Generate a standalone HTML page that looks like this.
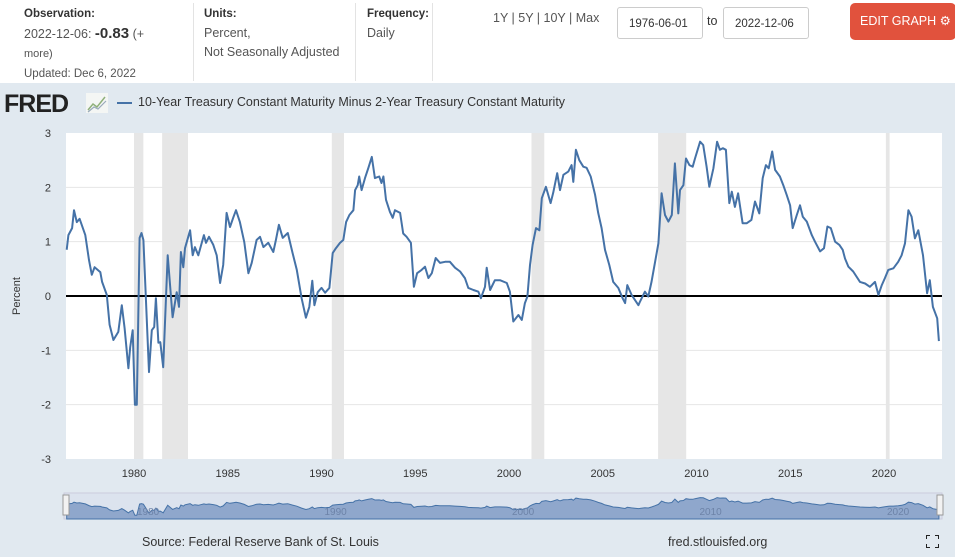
<!DOCTYPE html>
<html><head><meta charset="utf-8">
<style>
body{margin:0;width:955px;height:557px;overflow:hidden;font-family:"Liberation Sans",sans-serif;background:#fff;position:relative}
.hdr{position:absolute;top:0;left:0;width:955px;height:83px;background:#fff}
.cell{position:absolute;top:4px;font-size:12.5px;color:#555;line-height:19px}
.cell b{color:#333;font-size:11.5px}
.vl{position:absolute;top:3px;width:1px;height:78px;background:#e3e3e3}
.date{position:absolute;top:7px;height:32px;border:1px solid #ccc;border-radius:3px;font-size:11.5px;color:#333;line-height:32px;padding-left:11px;box-sizing:border-box}
.chartbg{position:absolute;top:83px;left:0;width:955px;height:474px;background:#e1e9f0}
</style></head><body>
<div class="hdr">
 <div class="cell" style="left:24px"><b>Observation:</b><br>2022-12-06: <span style="font-size:15px;color:#333;font-weight:bold">-0.83</span> (+<br><span style="font-size:11px">more)</span><br><span style="font-size:11.5px">Updated: Dec 6, 2022</span></div>
 <div class="vl" style="left:193px"></div>
 <div class="cell" style="left:204px"><b>Units:</b><br>Percent,<br>Not Seasonally Adjusted</div>
 <div class="vl" style="left:355px"></div>
 <div class="cell" style="left:367px"><b>Frequency:</b><br>Daily</div>
 <div class="vl" style="left:432px"></div>
 <div style="position:absolute;left:493px;top:11px;font-size:12.5px;color:#555">1Y | 5Y | 10Y | Max</div>
 <div class="date" style="left:617px;width:86px">1976-06-01</div>
 <div style="position:absolute;left:707px;top:14px;font-size:12.5px;color:#333">to</div>
 <div class="date" style="left:723px;width:86px">2022-12-06</div>
 <div style="position:absolute;left:850px;top:3px;width:106px;height:37px;background:#e1523d;border-radius:5px;color:#fff;font-size:12.5px;line-height:37px;padding-left:10px;box-sizing:border-box">EDIT GRAPH ⚙</div>
</div>
<div class="chartbg"></div>
<div style="position:absolute;left:4px;top:90px;font-size:25px;font-weight:bold;color:#222;letter-spacing:-1px">FRED</div>
<svg style="position:absolute;left:86px;top:93px" width="22" height="20"><rect width="22" height="20" fill="#f4f6f4"/><polyline points="2,17 7,11 11,14 19,4" fill="none" stroke="#8fb07a" stroke-width="1.5"/><polyline points="2,19 8,14 12,16 20,8" fill="none" stroke="#9ab" stroke-width="1.2"/></svg>
<div style="position:absolute;left:117px;top:102px;width:15px;height:2px;background:#4572a7"></div>
<div style="position:absolute;left:138px;top:95px;font-size:12.5px;color:#333">10-Year Treasury Constant Maturity Minus 2-Year Treasury Constant Maturity</div>
<svg id="chart" style="position:absolute;left:0;top:0" width="955" height="557"></svg>
<div style="position:absolute;left:142px;top:535px;font-size:12.5px;color:#333">Source: Federal Reserve Bank of St. Louis</div>
<div style="position:absolute;left:668px;top:535px;font-size:12.5px;color:#333">fred.stlouisfed.org</div>
<svg style="position:absolute;left:926px;top:535px" width="13" height="13"><path d="M0 4V0H4M9 0H13V4M13 9V13H9M4 13H0V9" fill="none" stroke="#222" stroke-width="2"/></svg>
<script>
const years=[1976.41,1976.5,1976.7,1976.8,1976.95,1977.1,1977.4,1977.6,1977.75,1977.9,1978.2,1978.3,1978.55,1978.7,1978.9,1979.16,1979.35,1979.5,1979.7,1979.8,1979.93,1980.05,1980.15,1980.3,1980.4,1980.5,1980.8,1980.95,1981.08,1981.17,1981.3,1981.4,1981.56,1981.8,1982.06,1982.28,1982.4,1982.5,1982.63,1982.72,1982.99,1983.13,1983.25,1983.43,1983.73,1983.84,1984.0,1984.23,1984.41,1984.59,1984.76,1984.94,1985.12,1985.3,1985.44,1985.65,1985.88,1986.1,1986.28,1986.54,1986.72,1986.9,1987.16,1987.43,1987.57,1987.73,1987.93,1988.2,1988.46,1988.68,1988.94,1989.17,1989.35,1989.51,1989.62,1989.8,1990.0,1990.19,1990.42,1990.6,1990.77,1990.99,1991.16,1991.31,1991.49,1991.7,1991.79,1991.93,1992.01,1992.14,1992.32,1992.5,1992.68,1992.85,1993.08,1993.2,1993.3,1993.44,1993.65,1993.8,1993.92,1994.19,1994.36,1994.54,1994.77,1994.93,1995.1,1995.34,1995.52,1995.7,1995.88,1996.09,1996.32,1996.59,1996.85,1997.12,1997.39,1997.65,1997.83,1998.1,1998.37,1998.5,1998.72,1998.81,1998.99,1999.25,1999.52,1999.88,2000.05,2000.23,2000.5,2000.68,2000.85,2000.98,2001.12,2001.26,2001.44,2001.62,2001.75,2001.97,2002.22,2002.36,2002.57,2002.72,2002.9,2003.16,2003.34,2003.43,2003.57,2003.75,2003.96,2004.14,2004.36,2004.59,2004.76,2004.94,2005.12,2005.35,2005.56,2005.83,2006.06,2006.19,2006.31,2006.54,2006.9,2006.99,2007.25,2007.43,2007.6,2007.79,2007.97,2008.14,2008.32,2008.5,2008.68,2008.85,2009.03,2009.12,2009.3,2009.44,2009.62,2009.8,2009.92,2010.19,2010.36,2010.54,2010.68,2010.9,2011.1,2011.25,2011.4,2011.57,2011.75,2011.88,2012.05,2012.22,2012.46,2012.68,2012.93,2013.12,2013.35,2013.53,2013.7,2013.85,2014.04,2014.19,2014.45,2014.63,2014.81,2014.99,2015.13,2015.35,2015.52,2015.67,2015.88,2016.15,2016.32,2016.59,2016.8,2016.98,2017.16,2017.39,2017.62,2017.8,2017.92,2018.1,2018.36,2018.72,2018.99,2019.25,2019.52,2019.7,2019.88,2020.05,2020.23,2020.5,2020.76,2020.94,2021.12,2021.3,2021.47,2021.65,2021.83,2022.08,2022.3,2022.44,2022.61,2022.84,2022.93];
const spread=[0.85,1.12,1.25,1.58,1.36,1.42,1.12,0.66,0.39,0.53,0.44,0.26,0.02,-0.53,-0.81,-0.66,-0.17,-0.59,-1.33,-0.94,-0.63,-2.0,-2.0,1.07,1.16,1.03,-1.4,-0.63,-0.57,-0.04,-0.86,-0.85,-1.31,0.75,-0.39,0.07,-0.2,0.81,0.53,0.88,1.21,0.75,0.9,0.75,1.12,0.98,1.09,0.94,0.75,0.24,0.57,1.53,1.27,1.45,1.58,1.36,0.99,0.42,0.61,1.03,1.09,0.9,0.98,0.81,1.03,1.31,1.07,1.16,0.79,0.48,-0.04,-0.4,-0.2,0.28,-0.17,0.07,0.15,0.06,0.15,0.79,0.88,0.98,1.03,1.36,1.49,1.58,1.95,2.04,2.2,1.95,2.17,2.36,2.56,2.17,2.2,2.08,2.2,1.77,1.55,1.44,1.58,1.53,1.15,1.09,0.98,0.17,0.42,0.48,0.54,0.33,0.42,0.7,0.61,0.63,0.63,0.52,0.45,0.33,0.15,0.11,0.08,-0.04,0.17,0.52,0.11,0.29,0.29,0.24,0.08,-0.47,-0.35,-0.44,-0.13,-0.01,0.57,0.94,1.25,1.21,1.8,2.01,1.71,1.9,2.26,1.95,2.23,2.29,2.41,2.1,2.69,2.5,2.38,2.36,2.2,1.86,1.53,1.25,0.85,0.57,0.26,0.15,-0.04,-0.13,0.2,0.02,-0.17,-0.1,0.08,-0.01,0.26,0.63,0.97,1.89,1.49,1.37,1.49,2.44,1.52,1.95,2.04,2.53,2.41,2.38,2.53,2.84,2.78,2.38,2.01,2.35,2.84,2.69,2.72,2.69,1.71,1.92,1.64,1.89,1.34,1.34,1.4,1.74,1.52,2.17,2.41,2.35,2.66,2.32,2.2,2.04,1.86,1.67,1.25,1.49,1.67,1.46,1.37,1.12,1.0,0.82,0.88,1.28,1.25,1.0,0.94,0.85,0.69,0.54,0.45,0.26,0.23,0.17,0.26,0.02,0.2,0.33,0.48,0.51,0.63,0.75,0.97,1.58,1.46,1.06,1.21,0.75,0.05,0.29,-0.2,-0.41,-0.83];
const recessions=[[1980.0,1980.5],[1981.5,1982.88],[1990.55,1991.2],[2001.2,2001.88],[2007.95,2009.45],[2020.1,2020.3]];
const yTicks=[3,2,1,0,-1,-2,-3];
const xTicks=[1980,1985,1990,1995,2000,2005,2010,2015,2020];
const navTicks=[1980,1990,2000,2010,2020];

const NS='http://www.w3.org/2000/svg';
const svg=document.getElementById('chart');
const L=66,R=942,T=133,B=459;
const X=y=>134+(y-1980)*(884-134)/40;
const Y=v=>T+(3-v)*(B-T)/6;
function el(t,a,p){const e=document.createElementNS(NS,t);for(const k in a)e.setAttribute(k,a[k]);(p||svg).appendChild(e);return e;}
const plot=el('rect',{x:L,y:T,width:R-L,height:B-T,fill:'#fff'});


recessions.forEach(r=>{
 const e=el('rect',{x:X(r[0]),y:T,width:X(r[1])-X(r[0]),height:B-T,fill:'#e6e6e6'});
 
 
});
yTicks.forEach(v=>{
 if(v!==0&&v!==-3&&v!==3){const g=el('line',{x1:L,x2:R,y1:Y(v),y2:Y(v),stroke:'#e6e6e6','stroke-width':1});
 
 }
 const t=el('text',{x:51,y:Y(v)+4,'text-anchor':'end','font-size':11,fill:'#333','font-family':'Liberation Sans'});
 t.textContent=v;
 
 
});
xTicks.forEach(v=>{
 const t=el('text',{x:X(v),y:477,'text-anchor':'middle','font-size':11,fill:'#333','font-family':'Liberation Sans'});
 t.textContent=v;
 
 
});
const yt=el('text',{x:20,y:296,'text-anchor':'middle','font-size':11,fill:'#333','font-family':'Liberation Sans',transform:'rotate(-90 20 296)'});
yt.textContent='Percent';


const zl=el('line',{x1:L,x2:R,y1:Y(0),y2:Y(0),stroke:'#000','stroke-width':2});


const pts=years.map((y,i)=>X(y).toFixed(1)+','+Y(spread[i]).toFixed(1)).join(' ');
const line=el('polyline',{points:pts,fill:'none',stroke:'#4572a7','stroke-width':2,'stroke-linejoin':'round'});


// navigator
const NT=493,NB=519;
const NY=v=>NT+4+(3-v)*(NB-NT-4)/6;
const nb=el('rect',{x:64,y:NT,width:878,height:NB-NT,fill:'#dce3ee',stroke:'#ccd', 'stroke-width':1});


const area='M'+X(years[0])+','+NB+' L'+years.map((y,i)=>X(y).toFixed(1)+','+NY(spread[i]).toFixed(1)).join(' L')+' L'+X(years[years.length-1])+','+NB+' Z';
const na=el('path',{d:area,fill:'#8fa7cc',stroke:'#4572a7','stroke-width':1});


navTicks.forEach(v=>{
 const t=el('text',{x:X(v)+3,y:515,'font-size':10,fill:'#6d83a8','font-family':'Liberation Sans'});
 t.textContent=v;
 
 
});
[63,937].forEach(x=>{
 const h=el('rect',{x:x,y:NT+2,width:6,height:20,fill:'#f2f2f2',stroke:'#999','stroke-width':1});
 
 
});
</script>
</body></html>
